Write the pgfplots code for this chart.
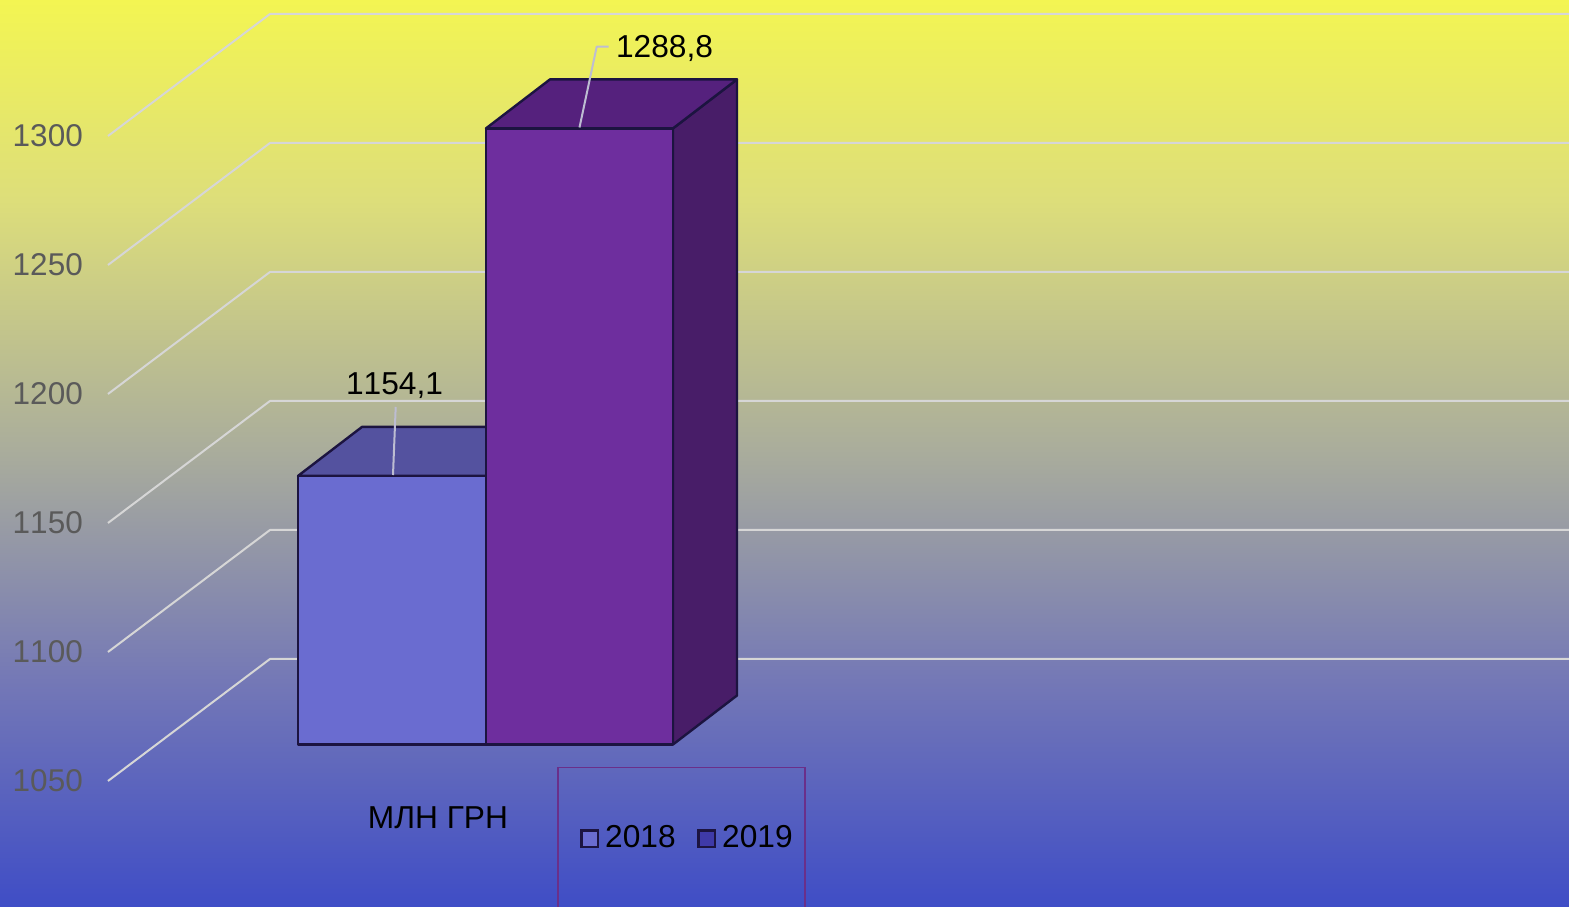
\documentclass[border=0pt]{standalone}
\usepackage{fontspec}
\setmainfont[Kerning=Off]{Liberation Sans}
\usepackage{pgfplots}
\pgfplotsset{compat=1.18}
\definecolor{gridc}{HTML}{D6D6D6}
\definecolor{edgec}{HTML}{1C1440}
\definecolor{fa}{HTML}{6A6CD0}
\definecolor{ta}{HTML}{54529F}
\definecolor{fb}{HTML}{6E2E9E}
\definecolor{tb}{HTML}{55217D}
\definecolor{sb}{HTML}{481D68}
\definecolor{leadc}{HTML}{BDBDD2}
\definecolor{legc}{HTML}{6A2F8A}
\definecolor{ticc}{HTML}{5A5A5A}
\definecolor{mkb}{HTML}{3F3AA8}
\pgfdeclareverticalshading{bgshade}{100bp}{
  rgb(0bp)=(.247,.302,.776);
  rgb(25bp)=(.247,.302,.776);
  rgb(37.5bp)=(.455,.471,.714);
  rgb(50bp)=(.663,.675,.612);
  rgb(64bp)=(.867,.871,.478);
  rgb(75bp)=(.953,.961,.322);
  rgb(100bp)=(.953,.961,.322)}
\begin{document}
\begin{tikzpicture}
\begin{axis}[
  scale only axis, width=1569pt, height=907pt,
  xmin=0, xmax=1569, ymin=1001.16, ymax=1352.71,
  axis line style={draw=none},
  axis background/.style={shade, shading=bgshade, draw=none},
  xtick=\empty,
  ytick={1050,1100,1150,1200,1250,1300},
  major tick length=0pt,
  /pgf/number format/assume math mode=true,
  /pgf/number format/set thousands separator={},
  yticklabel style={anchor=east, xshift=83pt, inner sep=0pt, text=ticc, font=\fontsize{31.5}{36}\selectfont},
  tick style={draw=none},
]
% gridlines: front plane, then wall
\pgfplotsset{gl/.style={color=gridc, line width=2pt, line join=round, forget plot}}
\addplot[gl] coordinates {(108,1050)(270,1097.29)(1569,1097.29)};
\addplot[gl] coordinates {(108,1100)(270,1147.29)(1569,1147.29)};
\addplot[gl] coordinates {(108,1150)(270,1197.29)(1569,1197.29)};
\addplot[gl] coordinates {(108,1200)(270,1247.29)(1569,1247.29)};
\addplot[gl] coordinates {(108,1250)(270,1297.29)(1569,1297.29)};
\addplot[gl] coordinates {(108,1300)(270,1347.29)(1569,1347.29)};
% bars: values at true height, lifted 36.5 px from the tick plane
\pgfplotsset{bb/.style={draw=edgec, line width=2.4pt, line join=round, yshift=36.5pt, forget plot}}
\addplot[bb, fill=ta] coordinates {(298,1154.1)(362,1173.09)(550,1173.09)(486,1154.1)} -- cycle;
\addplot[bb, fill=fa] coordinates {(298,1050)(298,1154.1)(486,1154.1)(486,1050)} -- cycle;
\addplot[bb, fill=sb] coordinates {(673,1050)(737,1068.99)(737,1307.79)(673,1288.8)} -- cycle;
\addplot[bb, fill=tb] coordinates {(486,1288.8)(550,1307.79)(737,1307.79)(673,1288.8)} -- cycle;
\addplot[bb, fill=fb] coordinates {(486,1050)(486,1288.8)(673,1288.8)(673,1050)} -- cycle;
% leaders
\addplot[color=leadc, line width=2pt, forget plot] coordinates {(393,1168.6)(395.7,1194.96)};
\addplot[color=leadc, line width=2pt, line join=round, forget plot] coordinates {(579.5,1303.3)(596.7,1334.6)(608.7,1334.6)};
% value labels
\node[anchor=base, inner sep=0pt, font=\fontsize{31.7}{36}\selectfont, text=black] at (axis cs:394.5,1199.9) {1154,1};
\node[anchor=base, inner sep=0pt, font=\fontsize{31.7}{36}\selectfont, text=black] at (axis cs:664.5,1330.3) {1288,8};
% category
\node[anchor=base, inner sep=0pt, font=\fontsize{31.7}{36}\selectfont, text=black] at (axis cs:438,1031.4) {МЛН ГРН};
% legend
\addplot[color=legc, line width=1.8pt, forget plot] coordinates {(558,995)(558,1055.23)(805,1055.23)(805,995)};
\addplot[draw=edgec, fill=fa, line width=2.4pt, forget plot] coordinates {(581.5,1030.8)(598,1030.8)(598,1024.4)(581.5,1024.4)} -- cycle;
\addplot[draw=edgec, fill=mkb, line width=2.4pt, forget plot] coordinates {(698.5,1030.8)(715,1030.8)(715,1024.4)(698.5,1024.4)} -- cycle;
\node[anchor=base west, inner sep=0pt, font=\fontsize{31.7}{36}\selectfont, text=black] at (axis cs:605,1024.03) {2018};
\node[anchor=base west, inner sep=0pt, font=\fontsize{31.7}{36}\selectfont, text=black] at (axis cs:722,1024.03) {2019};
\end{axis}
\end{tikzpicture}
\end{document}
